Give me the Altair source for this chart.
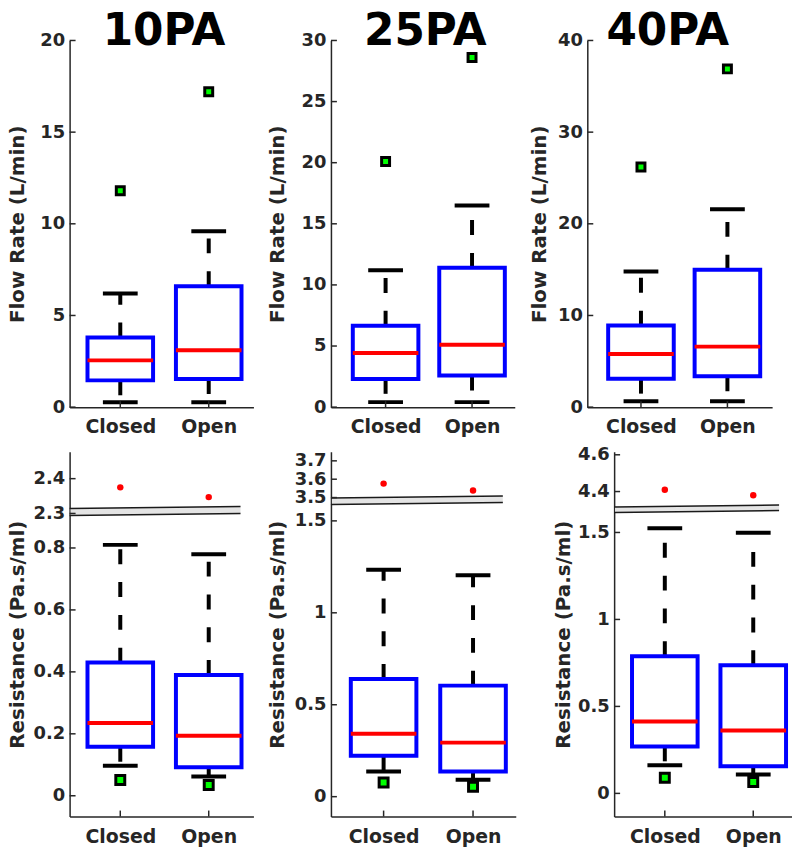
import altair as alt
import pandas as pd

groups = ["Closed", "Open"]
pressures = ["10PA", "25PA", "40PA"]

# Flow rate (L/min): [Closed, Open] for 10PA, 25PA, 40PA
flow_whisker_low = [[0.27, 0.27], [0.41, 0.41], [0.65, 0.65]]
flow_q1 = [[1.46, 1.53], [2.31, 2.58], [3.10, 3.36]]
flow_median = [[2.55, 3.10], [4.43, 5.10], [5.80, 6.60]]
flow_q3 = [[3.80, 6.60], [6.66, 11.40], [8.90, 15.00]]
flow_whisker_high = [[6.20, 9.60], [11.20, 16.50], [14.80, 21.60]]
flow_outlier = [[11.8, 17.2], [20.1, 28.6], [26.2, 36.9]]
flow_ticks = [[0, 5, 10, 15, 20], [0, 5, 10, 15, 20, 25, 30], [0, 10, 20, 30, 40]]

# Resistance (Pa.s/ml): [Closed, Open] for 10PA, 25PA, 40PA
res_whisker_low = [[0.097, 0.062], [0.137, 0.092], [0.162, 0.109]]
res_q1 = [[0.158, 0.092], [0.222, 0.137], [0.270, 0.156]]
res_median = [[0.235, 0.194], [0.342, 0.294], [0.413, 0.362]]
res_q3 = [[0.430, 0.390], [0.640, 0.604], [0.789, 0.737]]
res_whisker_high = [[0.810, 0.780], [1.234, 1.204], [1.524, 1.499]]
res_outlier_low = [[0.051, 0.035], [0.077, 0.054], [0.090, 0.065]]
res_outlier_high = [[2.375, 2.347], [3.576, 3.538], [4.410, 4.380]]
res_ticks = [[0, 0.2, 0.4, 0.6, 0.8, 2.3, 2.4], [0, 0.5, 1, 1.5, 3.5, 3.6, 3.7], [0, 0.5, 1, 1.5, 4.4, 4.6]]
# broken axis domain: [lower min, lower max, upper min, upper max]
res_domain = [[-0.067, 0.905, 2.296, 2.477], [-0.108, 1.589, 3.49, 3.749], [-0.133, 1.615, 4.324, 4.616]]

# ---- layout / style constants ----
FONT = "DejaVu Sans"
TXT = "#262626"
TOP_H, BOT_H = 369, 367
top_W = [185, 185, 186]
top_L = [62, 78, 73]
top_centers = [(51, 140), (55, 142), (54, 141)]
top_titleX = [-46, -48, -42]
bot_W = [185, 186, 179]
bot_L = [62, 78, 99]
bot_centers = [(51, 140), (53, 143), (51, 140)]
bot_titleX = [-46, -48, -45]
bot_range = [[367, 64, 63.4, 0], [367, 53, 47.85, 0], [367, 61, 54, 0]]
break_px = [(57, 64), (46.5, 53), (55.5, 61)]
head_x = [95, 95, 81]


def make_panel(top, i):
    W = top_W[i] if top else bot_W[i]
    H = TOP_H if top else BOT_H
    L = top_L[i] if top else bot_L[i]
    a, b = top_centers[i] if top else bot_centers[i]
    step = b - a
    pad = (W - step) / (2 * step)
    align = a / (W - step)

    if top:
        df = pd.DataFrame({
            "group": groups,
            "wlo": flow_whisker_low[i], "q1": flow_q1[i], "med": flow_median[i],
            "q3": flow_q3[i], "whi": flow_whisker_high[i], "out": flow_outlier[i],
        })
        ticks = flow_ticks[i]
        ys = alt.Scale(domain=[0, ticks[-1]], nice=False, zero=False)
        ytitle = "Flow Rate (L/min)"
        tX = top_titleX[i]
        sq = 64
    else:
        df = pd.DataFrame({
            "group": groups,
            "wlo": res_whisker_low[i], "q1": res_q1[i], "med": res_median[i],
            "q3": res_q3[i], "whi": res_whisker_high[i], "out": res_outlier_low[i],
            "outhi": res_outlier_high[i],
        })
        ticks = res_ticks[i]
        ys = alt.Scale(domain=res_domain[i], range=bot_range[i], nice=False, zero=False)
        ytitle = "Resistance (Pa.s/ml)"
        tX = bot_titleX[i]
        sq = 81

    xs = alt.Scale(type="point", domain=groups, padding=pad, align=align)
    X = alt.X("group:N", scale=xs, title=None, axis=alt.Axis(labelAngle=0))
    yaxis = alt.Axis(values=ticks, labelExpr="'' + datum.value", titleX=tX, titleY=H / 2,
                     titleAngle=-90, titleAlign="center", titleBaseline="alphabetic")

    def Y(f):
        return alt.Y(f"{f}:Q", scale=ys, axis=yaxis, title=ytitle)

    one = pd.DataFrame({"k": [0]})
    T = 30 if top else 15
    layers = [
        alt.Chart(one).mark_rect(opacity=0).encode(
            x=alt.value(-L), x2=alt.value(W), y=alt.value(-T), y2=alt.value(H + 30)),
    ]
    base = alt.Chart(df)
    dash = [15, 18]
    layers += [
        base.mark_rule(color="black", strokeWidth=4, strokeDash=dash, opacity=1).encode(
            x=X, y=Y("q3"), y2="whi"),
        base.mark_rule(color="black", strokeWidth=4, strokeDash=dash, opacity=1).encode(
            x=X, y=Y("q1"), y2="wlo"),
        base.mark_tick(color="black", size=35, thickness=4, orient="horizontal", opacity=1).encode(
            x=X, y=Y("whi")),
        base.mark_tick(color="black", size=35, thickness=4, orient="horizontal", opacity=1).encode(
            x=X, y=Y("wlo")),
        base.mark_bar(fill="white", stroke="#0000FF", strokeWidth=4, size=66, opacity=1).encode(
            x=X, y=Y("q1"), y2="q3"),
        base.mark_tick(color="#FF0000", size=66, thickness=4, orient="horizontal", opacity=1).encode(
            x=X, y=Y("med")),
        base.mark_square(size=sq, fill="#00FF00", stroke="black", strokeWidth=3, opacity=1).encode(
            x=X, y=Y("out")),
    ]
    if not top:
        layers.append(base.mark_circle(size=42, color="#FF0000", opacity=1).encode(x=X, y=Y("outhi")))
        b0, b1 = break_px[i]
        tilt = 2
        xe = W - 13
        layers += [
            alt.Chart(one).mark_rule(color="#e4e4e4", strokeWidth=b1 - b0).encode(
                x=alt.value(1), x2=alt.value(xe), y=alt.value((b0 + b1) / 2),
                y2=alt.value((b0 + b1) / 2 - tilt)),
            alt.Chart(one).mark_rule(color="#1a1a1a", strokeWidth=1.5).encode(
                x=alt.value(0), x2=alt.value(xe), y=alt.value(b0), y2=alt.value(b0 - tilt)),
            alt.Chart(one).mark_rule(color="#1a1a1a", strokeWidth=1.5).encode(
                x=alt.value(0), x2=alt.value(xe), y=alt.value(b1), y2=alt.value(b1 - tilt)),
        ]
    # inward ticks
    layers += [
        alt.Chart(pd.DataFrame({"v": ticks})).mark_rule(color=TXT, strokeWidth=1.5).encode(
            y=Y("v"), x=alt.value(0), x2=alt.value(6)),
        base.mark_rule(color=TXT, strokeWidth=1.5).encode(x=X, y=alt.value(H), y2=alt.value(H - 6)),
    ]
    if top:
        layers.append(
            alt.Chart(pd.DataFrame({"t": [pressures[i]]})).mark_text(
                font=FONT, fontSize=44, fontWeight="bold", color="black",
                align="center", baseline="alphabetic").encode(
                text="t:N", x=alt.value(head_x[i]), y=alt.value(5)))
    return alt.layer(*layers).properties(width=W, height=H)


top_row = alt.hconcat(*[make_panel(True, i) for i in range(3)], spacing=0)
bot_row = alt.hconcat(*[make_panel(False, i) for i in range(3)], spacing=0)

chart = alt.vconcat(top_row, bot_row, spacing=0).properties(
    padding=0, background="white"
).configure_view(stroke=None).configure_axis(
    grid=False, ticks=False, tickSize=0, domainColor=TXT, domainWidth=1.5,
    labelColor=TXT, labelFont=FONT, labelFontWeight="bold", labelFontSize=18,
    titleColor=TXT, titleFont=FONT, titleFontWeight="bold", titleFontSize=20,
    labelOverlap=False
).configure_axisX(labelFontSize=19, labelPadding=11).configure_axisY(labelPadding=5)

chart.save("out.html", embed_options={"renderer": "svg", "actions": False})
